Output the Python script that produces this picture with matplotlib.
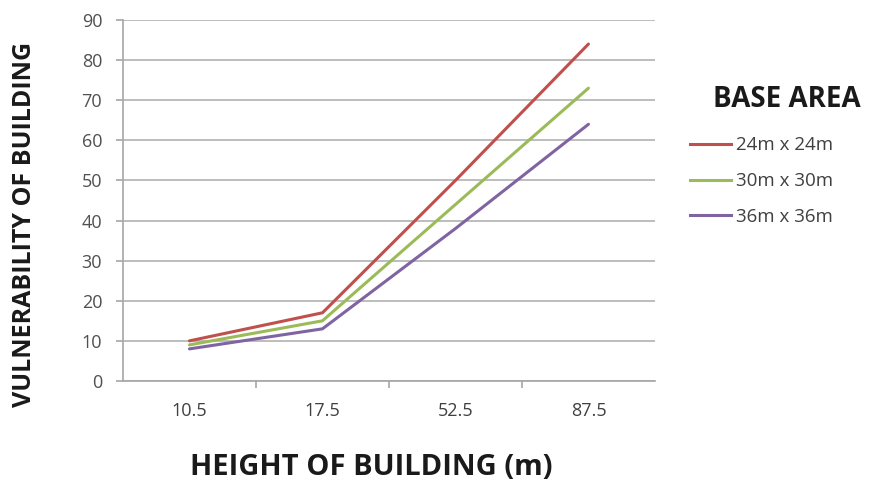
import matplotlib
matplotlib.use("Agg")
import matplotlib.pyplot as plt
from matplotlib.lines import Line2D

plt.rcParams['font.family'] = ['Open Sans', 'DejaVu Sans']

heights = ["10.5", "17.5", "52.5", "87.5"]
series_names = ["24m x 24m", "30m x 30m", "36m x 36m"]
vuln_24 = [10, 17, 50, 84]
vuln_30 = [9, 15, 44, 73]
vuln_36 = [8, 13, 38, 64]
colors = ["#C0504D", "#9BBB59", "#8064A2"]

fig = plt.figure(figsize=(8.69, 4.87), dpi=100)
ax = fig.add_axes([0.1415, 0.2177, 0.6122, 0.7413])

x = list(range(len(heights)))
for vals, c, name in zip([vuln_24, vuln_30, vuln_36], colors, series_names):
    ax.plot(x, vals, color=c, lw=2.2, label=name, solid_capstyle='round')

ax.set_xlim(-0.5, len(heights) - 0.5)
ax.set_ylim(0, 90)
ax.set_yticks(range(0, 91, 10))
ax.set_xticks(x)
ax.set_xticklabels(heights)
ax.set_xticks([i + 0.5 for i in range(len(heights) - 1)], minor=True)

ax.grid(axis='y', color='#BDBDBD', lw=1.4)
ax.set_axisbelow(True)
for s in ['top', 'right']:
    ax.spines[s].set_visible(False)
for s in ['left', 'bottom']:
    ax.spines[s].set_color('#A6A6A6')
    ax.spines[s].set_linewidth(1.2)

ax.tick_params(axis='y', colors='#A6A6A6', length=5, width=1.2, labelcolor='#505050',
               labelsize=13, pad=10)
ax.tick_params(axis='x', which='major', length=0, labelcolor='#404040', labelsize=13, pad=15)
ax.tick_params(axis='x', which='minor', colors='#A6A6A6', length=5, width=1.2)

fig.text(0.427, 0.041, "HEIGHT OF BUILDING (m)", ha='center', va='center',
         fontsize=21, fontweight='bold', color='#1a1a1a')
fig.text(0.028, 0.54, "VULNERABILITY OF BUILDING", ha='center', va='center',
         rotation=90, fontsize=18, fontweight='bold', color='#1a1a1a')

handles = [Line2D([0], [0], color=c, lw=2.2) for c in colors]
leg = fig.legend(handles, series_names, loc='center left', bbox_to_anchor=(0.794, 0.628),
                 frameon=False, fontsize=13.5, handlelength=2.2, handletextpad=0.25,
                 labelspacing=0.95, labelcolor='#404040', borderpad=0, borderaxespad=0)
fig.text(0.905, 0.795, "BASE AREA", ha='center', va='center', fontsize=20,
         fontweight='bold', color='#1a1a1a')

fig.savefig("out.png", dpi=100)
